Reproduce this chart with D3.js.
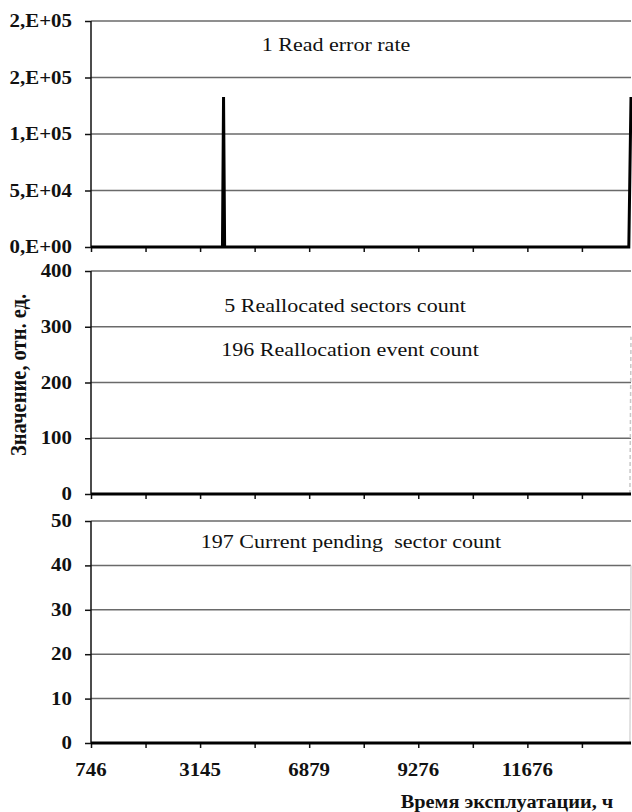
<!DOCTYPE html>
<html lang="ru">
<head>
<meta charset="utf-8">
<title>SMART</title>
<style>
    body { margin: 0; background: #fff; }
    .grid line { stroke: #6a6a6a; stroke-width: 1.5; }
    .axis path, .axis line { stroke: #111; stroke-width: 1.5; }
    .tick-label { font-weight: bold; font-size: 18.5px; }
    .panel-label { font-size: 19.5px; }
</style>
</head>
<body>
<svg id="chart" width="632" height="812"></svg>
<script src="https://d3js.org/d3.v7.min.js"></script>
<script>
// x axis: category positions (tick index), labels on every second tick
var xTickPos = [0, 1, 2, 3, 4, 5, 6, 7, 8, 9];
var xTickLabels = ["746", "", "3145", "", "6879", "", "9276", "", "11676", ""];
var xMax = 9.9;

// 1 Read error rate
var readErrX = [0, 2.41, 2.43, 2.45, 9.86, 9.9];
var readErrY = [0, 0, 132700, 0, 0, 132700];
var readTicks = [0, 50000, 100000, 150000, 200000];
var readTickLabels = ["0,E+00", "5,E+04", "1,E+05", "2,E+05", "2,E+05"];

// 5 Reallocated sectors count / 196 Reallocation event count
var reallocX = [0, 9.9];
var reallocY = [0, 0];
var eventX = [0, 9.88, 9.9];
var eventY = [0, 0, 282];
var reallocTicks = [0, 100, 200, 300, 400];

// 197 Current pending sector count
var pendingX = [0, 9.9];
var pendingY = [0, 0];
var pendingFaintX = [0, 9.88, 9.9];
var pendingFaintY = [0, 0, 40];
var pendingTicks = [0, 10, 20, 30, 40, 50];

var FONT = '"Liberation Serif", "Times New Roman", Tinos, serif';

var svg = d3.select('#chart');
var left = 91, right = 631;
var sx = 1.13;   // the picture is slightly wide-stretched

var x = d3.scaleLinear().domain([0, xMax]).range([left, right]);

var panels = [
    {top: 21, bottom: 247, max: 200000, ticks: readTicks, fmt: function(d, i) { return readTickLabels[i]; },
     labels: [{t: "1 Read error rate", cx: 336, y: 51}],
     series: [{xs: readErrX, ys: readErrY, color: "#000", w: 3, dash: null}]},
    {top: 271, bottom: 494, max: 400, ticks: reallocTicks, fmt: String,
     labels: [{t: "5 Reallocated sectors count", cx: 345, y: 312}, {t: "196 Reallocation event count", cx: 350, y: 356}],
     series: [{xs: eventX, ys: eventY, color: "#c8c8c8", w: 1.5, dash: "4,3"},
              {xs: reallocX, ys: reallocY, color: "#000", w: 3, dash: null}]},
    {top: 521, bottom: 743, max: 50, ticks: pendingTicks, fmt: String,
     labels: [{t: "197 Current pending  sector count", cx: 351, y: 548}],
     series: [{xs: pendingFaintX, ys: pendingFaintY, color: "#d8d8d8", w: 1.5, dash: null},
              {xs: pendingX, ys: pendingY, color: "#000", w: 3, dash: null}]}
];

// text with horizontal stretch
function stretchText(g, str, px, py, anchor, cls) {
    return g.append('text')
        .attr('class', cls)
        .attr('font-family', FONT)
        .attr('fill', '#111')
        .attr('transform', 'translate(' + px + ',' + py + ') scale(' + sx + ',1)')
        .attr('text-anchor', anchor)
        .style('white-space', 'pre')
        .text(str);
}

panels.forEach(function(p) {
    var y = d3.scaleLinear().domain([0, p.max]).range([p.bottom, p.top]);
    var g = svg.append('g');

    // grid
    g.append('g').attr('class', 'grid')
        .selectAll('line').data(p.ticks.filter(function(d) { return d > 0; }))
        .enter().append('line')
        .attr('x1', left).attr('x2', right)
        .attr('y1', function(d) { return y(d); })
        .attr('y2', function(d) { return y(d); });

    // y axis
    var ya = g.append('g').attr('class', 'axis')
        .attr('transform', 'translate(' + left + ',0)')
        .call(d3.axisLeft(y).tickValues(p.ticks).tickSize(6).tickFormat(''));
    ya.select('.domain').attr('d', 'M0,' + p.bottom + 'V' + p.top);

    p.ticks.forEach(function(t, i) {
        stretchText(g, p.fmt(t, i), 72, y(t) + 6, 'end', 'tick-label');
    });

    // x axis ticks below zero line
    var xa = g.append('g').attr('class', 'axis')
        .attr('transform', 'translate(0,' + p.bottom + ')')
        .call(d3.axisBottom(x).tickValues(xTickPos).tickSize(5).tickFormat(''));
    xa.select('.domain').remove();

    // series
    p.series.forEach(function(s) {
        var line = d3.line()
            .x(function(d, i) { return x(s.xs[i]); })
            .y(function(d) { return y(d); });
        g.append('path')
            .datum(s.ys)
            .attr('fill', 'none')
            .attr('stroke', s.color)
            .attr('stroke-width', s.w)
            .attr('stroke-dasharray', s.dash)
            .attr('d', line);
    });

    p.labels.forEach(function(l) {
        stretchText(g, l.t, l.cx, l.y, 'middle', 'panel-label');
    });
});

// x tick labels
xTickPos.forEach(function(t, i) {
    if (xTickLabels[i]) stretchText(svg, xTickLabels[i], x(t), 776, 'middle', 'tick-label');
});

// axis titles
stretchText(svg, 'Время эксплуатации, ч', 507, 808, 'middle', 'tick-label')
    .style('font-size', '18px');

svg.append('text')
    .attr('font-family', FONT)
    .attr('fill', '#111')
    .attr('transform', 'translate(26,375) rotate(-90) scale(1,' + sx + ')')
    .attr('text-anchor', 'middle')
    .style('font-weight', 'bold')
    .style('font-size', '20.5px')
    .text('Значение, отн. ед.');
</script>
</body>
</html>
